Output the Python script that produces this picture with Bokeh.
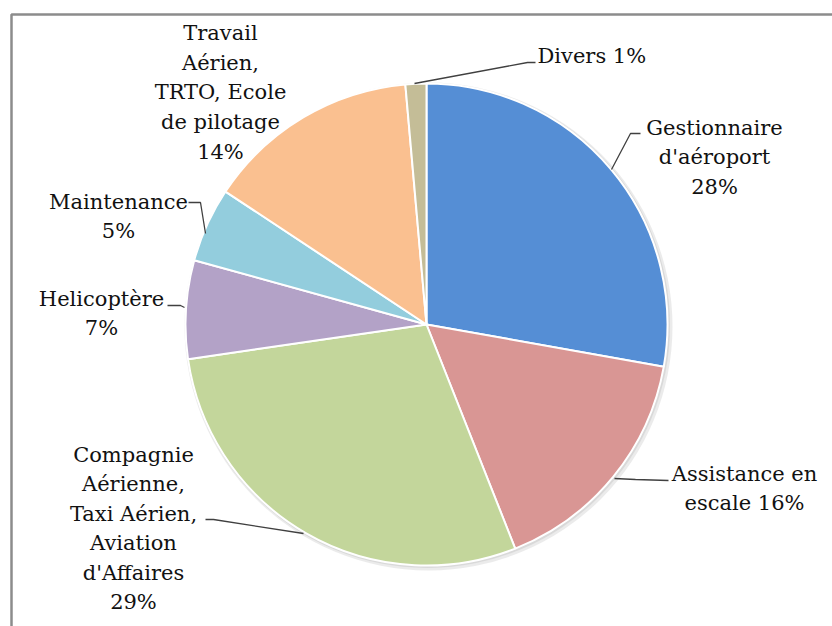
import math
from bokeh.plotting import figure
from bokeh.models import Range1d, ColumnDataSource
from bokeh.core.properties import value
from bokeh.embed import file_html
from bokeh.resources import INLINE

# ---- data ----
categories = [
    "Gestionnaire\nd'aéroport",
    "Assistance en\nescale",
    "Compagnie\nAérienne,\nTaxi Aérien,\nAviation\nd'Affaires",
    "Helicoptère",
    "Maintenance",
    "Travail\nAérien,\nTRTO, Ecole\nde pilotage",
    "Divers",
]
shares = [27.8, 16.2, 28.7, 6.6, 5.0, 14.3, 1.4]
pct_labels = ["28%", "16%", "29%", "7%", "5%", "14%", "1%"]
colors = ["#558ED5", "#D99694", "#C3D69B", "#B3A2C7", "#93CDDD", "#FAC090", "#C4BD97"]

# ---- layout (label placement) ----
label_join = ["\n", " ", "\n", "\n", "\n", "\n", " "]
label_xy = [(288, 167), (318, -164), (-293, -204), (-325, 11), (-308, 108), (-206, 232), (111, 269)]
label_align = ["center", "center", "center", "center", "center", "center", "left"]
leaders = [
    [(185, 155), (204, 191), (214, 191)],
    [(188, -154), (209, -155), (242, -156)],
    [(-123, -209), (-213, -195), (-221, -195)],
    [(-242, 17), (-246, 19), (-259, 19)],
    [(-221, 91), (-226, 122), (-238, 122)],
    None,
    [(-12, 241), (101, 262), (109, 262)],
]

R = 241
total = sum(shares)
starts, ends = [], []
cum = 0.0
for s in shares:
    starts.append(math.pi / 2 - 2 * math.pi * cum / total)
    cum += s
    ends.append(math.pi / 2 - 2 * math.pi * cum / total)

p = figure(width=832, height=626, output_backend="svg", toolbar_location=None,
           x_range=Range1d(-426, 406), y_range=Range1d(-302, 324),
           x_axis_location=None, y_axis_location=None, min_border=0)
p.grid.visible = False
p.outline_line_color = None
p.background_fill_color = "white"
p.border_fill_color = "white"

# frame border (left and top visible)
p.line([-415, -415, 410], [-310, 310, 310], line_color="#8c8c8c", line_width=2.5)

# soft shadow
p.circle(x=[2], y=[-2], radius=R + 3, fill_color="#d8d8d8", fill_alpha=0.5, line_color=None)
p.circle(x=[1], y=[-1], radius=R + 1.5, fill_color="#c8c8c8", fill_alpha=0.5, line_color=None)

src = ColumnDataSource(dict(start=starts, end=ends, color=colors))
p.wedge(x=0, y=0, radius=R, start_angle="start", end_angle="end", direction="clock",
        fill_color="color", line_color="white", line_width=2, source=src)

# leader lines
for pts in leaders:
    if pts:
        p.line([q[0] for q in pts], [q[1] for q in pts], line_color="#404040", line_width=1.3)

texts = [c + j + pc for c, j, pc in zip(categories, label_join, pct_labels)]
for t, (x, y), al in zip(texts, label_xy, label_align):
    p.text(x=[x], y=[y], text=[t], text_font=value("DejaVu Serif"), text_font_size="21px",
           text_align=al, text_baseline="middle", text_line_height=1.23, text_color="#111111")

open("out.html", "w").write(file_html(p, INLINE))
